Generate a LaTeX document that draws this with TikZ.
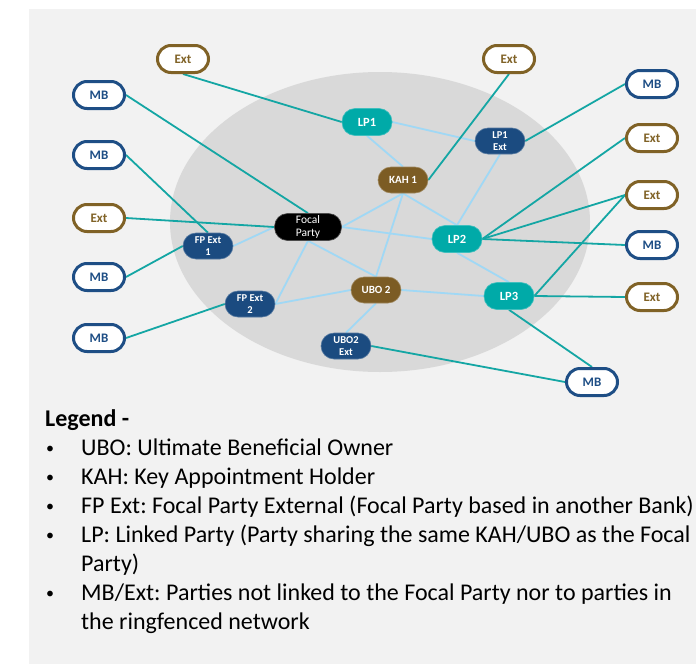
\documentclass[tikz,border=0pt]{standalone}
\usepackage{fontspec}
\setmainfont{Carlito}
\definecolor{panelgray}{RGB}{242,242,242}
\definecolor{ringgray}{RGB}{217,217,217}
\definecolor{lpteal}{RGB}{0,170,168}
\definecolor{linkteal}{RGB}{20,166,164}
\definecolor{linkblue}{RGB}{160,216,245}
\definecolor{keybrown}{RGB}{124,92,36}
\definecolor{extbrown}{RGB}{128,98,38}
\definecolor{darkblue}{RGB}{27,75,128}
\definecolor{mbblue}{RGB}{30,78,133}
\pgfdeclarelayer{back}
\pgfdeclarelayer{links}
\pgfsetlayers{back,links,main}
\begin{document}
\frenchspacing
\begin{tikzpicture}[x=1pt,y=-1pt,
  inner/.style={rectangle, rounded corners=13pt, minimum width=50pt,
    minimum height=26pt, inner sep=0pt, align=center, text=white, line width=0.6pt},
  lpnode/.style={inner, fill=lpteal, draw=lpteal!75!white, minimum height=27pt,
    font=\fontsize{12.5}{14}\selectfont\bfseries},
  keynode/.style={inner, fill=keybrown, draw=keybrown!75!white,
    font=\fontsize{11}{12}\selectfont\bfseries},
  extnode/.style={inner, fill=darkblue, draw=darkblue!75!white,
    font=\fontsize{10.5}{12.5}\selectfont\bfseries},
  focalnode/.style={inner, fill=black, draw=black!70!white, minimum width=67pt,
    minimum height=27pt, font=\fontsize{11.5}{13}\selectfont},
  outer/.style={rectangle, rounded corners=13.5pt, minimum width=51pt,
    minimum height=27pt, inner sep=0pt, line width=3pt, fill=white,
    font=\fontsize{13}{15}\selectfont\bfseries},
  mbnode/.style={outer, draw=mbblue, text=mbblue},
  outext/.style={outer, draw=extbrown, text=extbrown},
  tealink/.style={draw=linkteal, line width=1.8pt},
  bluelink/.style={draw=linkblue, line width=1.8pt},
  legtext/.style={anchor=base west, inner sep=0pt, font=\fontsize{24}{29}\selectfont},
  legbullet/.style={anchor=base west, inner sep=0pt, font=\fontsize{16}{18}\selectfont}
]
\useasboundingbox (0,0) rectangle (696,664);

% ring-fenced network nodes
\node[lpnode]    (lp1)   at (367,122) {LP1};
\node[lpnode]    (lp2)   at (457,239) {LP2};
\node[lpnode]    (lp3)   at (509,296) {LP3};
\node[keynode]   (kah)   at (403,180) {KAH 1};
\node[keynode]   (ubo)   at (376,290) {UBO 2};
\node[extnode]   (lp1x)  at (500,141) {LP1\\Ext};
\node[extnode]   (fpx1)  at (208,246) {FP Ext\\1};
\node[extnode]   (fpx2)  at (250,304) {FP Ext\\2};
\node[extnode]   (ubo2x) at (346,346) {UBO2\\Ext};
\node[focalnode] (focal) at (308,227) {Focal\\Party};

% parties outside the network
\node[outext] (extTL) at (183,59)  {Ext};
\node[mbnode] (mbL1)  at (99,95)   {MB};
\node[mbnode] (mbL2)  at (99,155)  {MB};
\node[outext] (extL)  at (99,218)  {Ext};
\node[mbnode] (mbL3)  at (99,277)  {MB};
\node[mbnode] (mbL4)  at (99,338)  {MB};
\node[outext] (extTR) at (509,59)  {Ext};
\node[mbnode] (mbTR)  at (652,84)  {MB};
\node[outext] (extR1) at (652,138) {Ext};
\node[outext] (extR2) at (652,195) {Ext};
\node[mbnode] (mbR)   at (652,245) {MB};
\node[outext] (extR3) at (652,297) {Ext};
\node[mbnode] (mbB)   at (592,382) {MB};

% legend
\node[legtext, font=\fontsize{24}{29}\selectfont\bfseries] (leg) at (45,426) {Legend -};
\foreach \yy/\nm in {453/b1,482/b2,511/b3,540/b4,598/b5}
  \node[legbullet] (\nm) at (46,\yy) {•};
\node[legtext] (l1)  at (81,455) {UBO: Ultimate Beneficial Owner};
\node[legtext] (l2)  at (81,484) {KAH: Key Appointment Holder};
\node[legtext] (l3)  at (81,513) {FP Ext: Focal Party External (Focal Party based in another Bank)};
\node[legtext] (l4)  at (81,542) {LP: Linked Party (Party sharing the same KAH/UBO as the Focal};
\node[legtext] (l4b) at (81,571) {Party)};
\node[legtext] (l5)  at (81,600) {MB/Ext: Parties not linked to the Focal Party nor to parties in};
\node[legtext] (l5b) at (81,629) {the ringfenced network};

\begin{pgfonlayer}{back}
  \fill[white] (0,0) rectangle (696,664);
  \fill[panelgray] (29,9) rectangle (696,664);
  \fill[ringgray] (380,222) ellipse [x radius=210, y radius=150];
\end{pgfonlayer}

\begin{pgfonlayer}{links}
  % links inside the network
  \draw[bluelink] (lp1.east) -- (lp1x.west);
  \draw[bluelink] (lp1.south) -- (kah.north);
  \draw[bluelink] (kah.south) -- (focal.east);
  \draw[bluelink] (kah.south) -- (lp2.north);
  \draw[bluelink] (kah.south) -- (ubo.north);
  \draw[bluelink] (lp1x.south) -- (lp2.north);
  \draw[bluelink] (focal.east) -- (lp2.west);
  \draw[bluelink] (focal.west) -- (fpx1.east);
  \draw[bluelink] (focal.south) -- (fpx2.east);
  \draw[bluelink] (focal.south) -- (ubo.north);
  \draw[bluelink] (fpx2.east) -- (ubo.west);
  \draw[bluelink] (ubo.east) -- (lp3.west);
  \draw[bluelink] (ubo.south) -- (ubo2x.north);
  \draw[bluelink] (lp2.south) -- (lp3.north);
  % links to outside parties
  \draw[tealink] (extTL.south) -- (lp1.west);
  \draw[tealink] (mbL1.east) -- (focal.north);
  \draw[tealink] (mbL2.east) -- (fpx1.north);
  \draw[tealink] (extL.east) -- (focal.west);
  \draw[tealink] (mbL3.east) -- (fpx1.west);
  \draw[tealink] (mbL4.east) -- (fpx2.west);
  \draw[tealink] (extTR.south) -- (kah.east);
  \draw[tealink] (mbTR.west) -- (lp1x.east);
  \draw[tealink] (extR1.west) -- (lp2.east);
  \draw[tealink] (extR2.west) -- (lp2.east);
  \draw[tealink] (extR2.west) -- (lp3.east);
  \draw[tealink] (mbR.west) -- (lp2.east);
  \draw[tealink] (extR3.west) -- (lp3.east);
  \draw[tealink] (lp3.south) -- (mbB.north);
  \draw[tealink] (ubo2x.east) -- (mbB.west);
\end{pgfonlayer}
\end{tikzpicture}
\end{document}
